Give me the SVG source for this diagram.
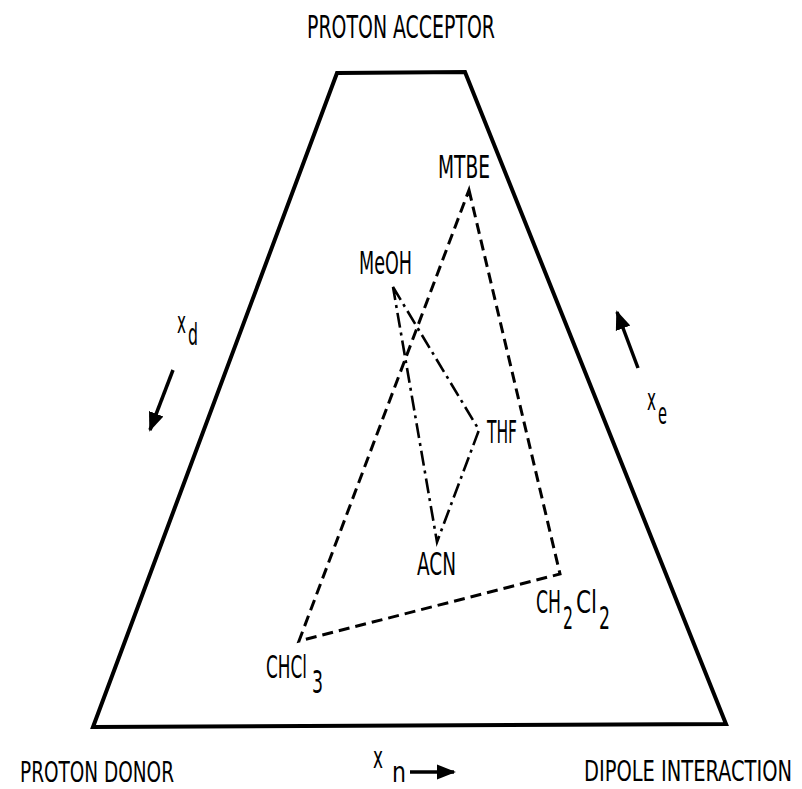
<svg xmlns="http://www.w3.org/2000/svg" width="802" height="789" viewBox="0 0 802 789">
<style>
text{font-family:"DejaVu Sans Condensed","Liberation Sans Narrow","Liberation Sans",sans-serif;font-size:32px;fill:#000}
.frame{fill:none;stroke:#000;stroke-width:4;stroke-linejoin:miter}
.dash{fill:none;stroke:#000;stroke-width:3;stroke-dasharray:11 6}
.dd{fill:none;stroke:#000;stroke-width:2.6;stroke-dasharray:15 5 3 5}
.arr{fill:none;stroke:#000;stroke-width:3.5}
.sub{font-size:30px}
.bot{font-size:29px}
</style>
<defs>
<marker id="ah" viewBox="0 0 10 10" refX="9" refY="5" markerWidth="5.5" markerHeight="5.5" markerUnits="strokeWidth" orient="auto">
<path d="M0,1 L10,5 L0,9 Z" fill="#000"/>
</marker>
</defs>
<rect width="802" height="789" fill="#fff"/>
<g id="frame">
<path class="frame" d="M337,73 L465,72 L726,724 L93,727 Z"/>
</g>
<g id="connectors">
<path id="dashed-triangle" class="dash" d="M469,190 L560,574 L299,641 Z"/>
<path id="dashdot-triangle" class="dd" d="M393,287 L479,430 L437,542 Z"/>
<line class="arr" x1="173" y1="370" x2="150" y2="430" marker-end="url(#ah)"/>
<line class="arr" x1="638" y1="368" x2="617" y2="312" marker-end="url(#ah)"/>
<line class="arr" x1="410" y1="772" x2="454" y2="772" marker-end="url(#ah)"/>
</g>
<g id="label-acceptor"><text x="307" y="38" textLength="188" lengthAdjust="spacingAndGlyphs">PROTON ACCEPTOR</text></g>
<g id="label-donor"><text class="bot" x="20" y="782" textLength="154" lengthAdjust="spacingAndGlyphs">PROTON DONOR</text></g>
<g id="label-dipole"><text class="bot" x="584" y="781" textLength="208" lengthAdjust="spacingAndGlyphs">DIPOLE INTERACTION</text></g>
<g id="node-MTBE"><text x="438" y="178" textLength="52" lengthAdjust="spacingAndGlyphs">MTBE</text></g>
<g id="node-MeOH"><text x="359" y="274" textLength="53" lengthAdjust="spacingAndGlyphs">MeOH</text></g>
<g id="node-THF"><text x="487" y="443" textLength="30" lengthAdjust="spacingAndGlyphs">THF</text></g>
<g id="node-ACN"><text x="417" y="575" textLength="39" lengthAdjust="spacingAndGlyphs">ACN</text></g>
<g id="node-CHCl3">
<text x="266" y="678" textLength="41" lengthAdjust="spacingAndGlyphs">CHCl</text>
<text x="312" y="693" textLength="11" lengthAdjust="spacingAndGlyphs">3</text>
</g>
<g id="node-CH2Cl2">
<text x="536" y="613" textLength="25" lengthAdjust="spacingAndGlyphs">CH</text>
<text x="563" y="629" textLength="10" lengthAdjust="spacingAndGlyphs">2</text>
<text x="576" y="613" textLength="21" lengthAdjust="spacingAndGlyphs">Cl</text>
<text x="599" y="629" textLength="11" lengthAdjust="spacingAndGlyphs">2</text>
</g>
<g id="axis-xd">
<text class="sub" x="177" y="333" textLength="9" lengthAdjust="spacingAndGlyphs">x</text>
<text class="sub" x="188" y="345" textLength="10" lengthAdjust="spacingAndGlyphs">d</text>
</g>
<g id="axis-xe">
<text class="sub" x="647" y="410" textLength="9" lengthAdjust="spacingAndGlyphs">x</text>
<text class="sub" x="658" y="424" textLength="9" lengthAdjust="spacingAndGlyphs">e</text>
</g>
<g id="axis-xn">
<text class="sub" x="373" y="768" textLength="10" lengthAdjust="spacingAndGlyphs">x</text>
<text class="bot" x="392" y="782" textLength="14" lengthAdjust="spacingAndGlyphs">n</text>
</g>
</svg>
